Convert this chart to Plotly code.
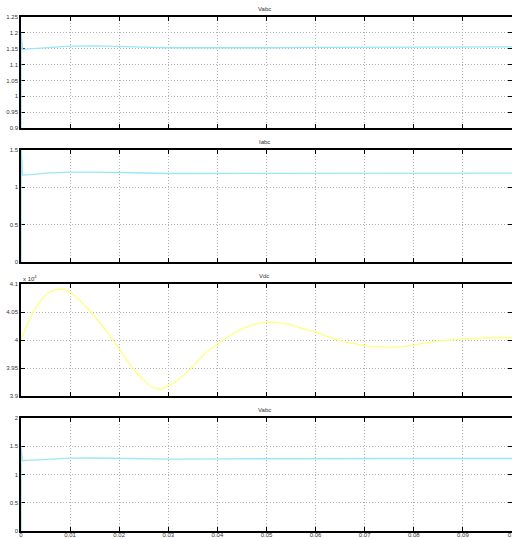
import plotly.graph_objects as go

# ---- data ----
t_abc = [0, 0, 0.0003, 0.002, 0.005, 0.01, 0.015, 0.02, 0.025, 0.03, 0.04, 0.05, 0.06, 0.07, 0.08, 0.09, 0.1]
vabc1 = [0, 1.2, 1.148, 1.150, 1.154, 1.158, 1.159, 1.158, 1.155, 1.153, 1.152, 1.153, 1.154, 1.154, 1.154, 1.155, 1.156]
iabc = [0, 1.6, 1.165, 1.170, 1.190, 1.203, 1.205, 1.203, 1.192, 1.185, 1.186, 1.188, 1.190, 1.190, 1.190, 1.190, 1.190]
vabc2 = [0, 1.5, 1.245, 1.255, 1.270, 1.290, 1.292, 1.285, 1.275, 1.272, 1.278, 1.282, 1.283, 1.283, 1.283, 1.283, 1.283]

t_dc = [0, 0.0025, 0.005, 0.0075, 0.01, 0.0125, 0.015, 0.0175, 0.02, 0.0225, 0.025, 0.0275, 0.03,
        0.0325, 0.035, 0.0375, 0.04, 0.0425, 0.045, 0.0475, 0.05, 0.0525, 0.055, 0.0575, 0.06,
        0.0625, 0.065, 0.0675, 0.07, 0.0725, 0.075, 0.0775, 0.08, 0.0825, 0.085, 0.0875, 0.09,
        0.0925, 0.095, 0.0975, 0.1]
vdc = [40000, 40500, 40800, 40910, 40850, 40660, 40420, 40150, 39840, 39530, 39280, 39130, 39180,
       39320, 39530, 39760, 39930, 40080, 40200, 40280, 40320, 40310, 40270, 40200, 40140,
       40060, 39990, 39940, 39900, 39880, 39870, 39880, 39910, 39950, 39980, 40000, 40020,
       40030, 40040, 40040, 40040]

x_ticks = [0, 0.01, 0.02, 0.03, 0.04, 0.05, 0.06, 0.07, 0.08, 0.09, 0.1]
x_labels = ["0", "0.01", "0.02", "0.03", "0.04", "0.05", "0.06", "0.07", "0.08", "0.09", "0.1"]

titles = ["Vabc", "Iabc", "Vdc", "Vabc"]
y_ticks = [
    [0.9, 0.95, 1, 1.05, 1.1, 1.15, 1.2, 1.25],
    [0, 0.5, 1, 1.5],
    [39000, 39500, 40000, 40500, 41000],
    [0, 0.5, 1, 1.5, 2],
]
y_labels = [
    ["0.9", "0.95", "1", "1.05", "1.1", "1.15", "1.2", "1.25"],
    ["0", "0.5", "1", "1.5"],
    ["3.9", "3.95", "4", "4.05", "4.1"],
    ["0", "0.5", "1", "1.5", "2"],
]
y_ranges = [[0.9, 1.25], [0, 1.5], [39000, 41000], [0, 2]]

CYAN = "#9be6f5"
YELLOW = "#ffff80"

H = 539.0
pix = [(17, 128), (150, 262), (284, 396), (418, 531)]
domains = [[1 - b / H, 1 - a / H] for a, b in pix]

fig = go.Figure()
series = [(t_abc, vabc1, CYAN), (t_abc, iabc, CYAN), (t_dc, vdc, YELLOW), (t_abc, vabc2, CYAN)]
for i, (tx, ty, col) in enumerate(series):
    n = "" if i == 0 else str(i + 1)
    fig.add_trace(go.Scatter(x=tx, y=ty, mode="lines", xaxis="x" + n, yaxis="y" + n,
                             line=dict(color=col, width=1.3, shape="spline" if i == 2 else "linear"),
                             showlegend=False, hoverinfo="skip"))

font = dict(family="Liberation Sans, Arial, sans-serif", size=6, color="#333333")
layout = dict(width=512, height=539, margin=dict(l=21, r=0, t=0, b=0),
              paper_bgcolor="white", plot_bgcolor="white", font=font, showlegend=False)
annotations = []
for i in range(4):
    n = "" if i == 0 else str(i + 1)
    layout["xaxis" + n] = dict(domain=[0, 1], anchor="y" + n, range=[0, 0.1],
                               tickvals=x_ticks, ticktext=x_labels, showticklabels=(i == 3),
                               ticks="inside", ticklen=4, tickwidth=1.3, tickcolor="black",
                               showline=True, linecolor="black", linewidth=1.5, mirror="ticks",
                               showgrid=True, gridcolor="#b0b0b0", griddash="1px,2px", gridwidth=1,
                               zeroline=False, automargin=False, tickfont=font,
                               ticklabeloverflow="allow", ticklabelstandoff=-3)
    layout["yaxis" + n] = dict(domain=domains[i], anchor="x" + n, range=y_ranges[i],
                               tickvals=y_ticks[i], ticktext=y_labels[i],
                               ticks="inside", ticklen=4, tickwidth=1.3, tickcolor="black",
                               showline=True, linecolor="black", linewidth=1.5, mirror="ticks",
                               showgrid=True, gridcolor="#b0b0b0", griddash="1px,2px", gridwidth=1,
                               zeroline=False, automargin=False, tickfont=font, layer="below traces",
                               ticklabeloverflow="allow")
    annotations.append(dict(text=titles[i], xref="paper", yref="paper", x=0.495, y=domains[i][1],
                            yshift=3, showarrow=False, xanchor="center", yanchor="bottom",
                            font=dict(family=font["family"], size=6, color="#333333")))
annotations.append(dict(text="x 10<sup>4</sup>", xref="paper", yref="paper", x=0.0, y=domains[2][1],
                        yshift=0, showarrow=False, xanchor="left", yanchor="bottom",
                        font=dict(family=font["family"], size=6, color="#333333")))
layout["annotations"] = annotations
fig.update_layout(**layout)
fig.write_html("out.html", config={"displayModeBar": False},
               post_script="document.body.style.margin='0';document.body.style.overflow='hidden';")
